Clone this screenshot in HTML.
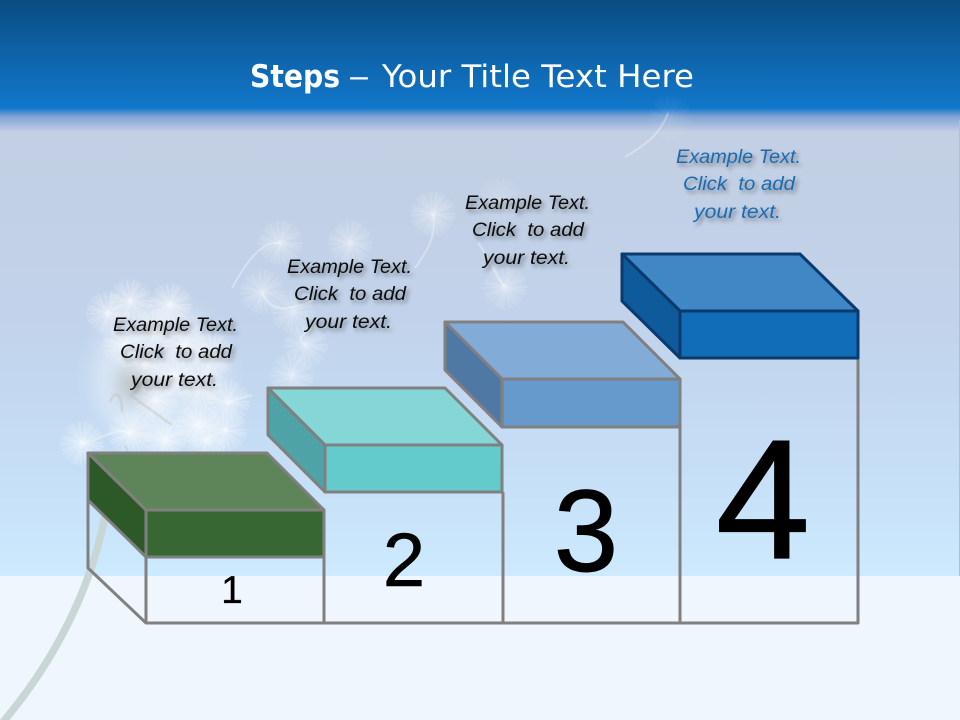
<!DOCTYPE html>
<html><head><meta charset="utf-8"><title>Steps</title>
<style>
html,body{margin:0;padding:0;background:#f0f6fd}
svg{display:block}
.t{font-family:"Liberation Sans",sans-serif;font-style:italic;font-size:19.5px;text-anchor:start}
.n{font-family:"Liberation Sans",sans-serif;fill:#000;text-anchor:middle}
.h{font-family:"DejaVu Sans",sans-serif;fill:#fff;font-size:31.5px}
</style></head><body>
<svg xmlns="http://www.w3.org/2000/svg" width="960" height="720" viewBox="0 0 960 720">
<defs>
<linearGradient id="hd" x1="0" y1="0" x2="0" y2="1"><stop offset="0" stop-color="#0a4c82"/><stop offset=".5" stop-color="#0e63a8"/><stop offset="1" stop-color="#1177cb"/></linearGradient>
<linearGradient id="fd" x1="0" y1="0" x2="0" y2="1"><stop offset="0" stop-color="#1177cb"/><stop offset=".35" stop-color="#7fa3d4"/><stop offset="1" stop-color="#c3cfe3"/></linearGradient>
<linearGradient id="sky" x1="0" y1="0" x2="0" y2="1"><stop offset="0" stop-color="#c3cfe3"/><stop offset=".4" stop-color="#c1d2ea"/><stop offset=".75" stop-color="#c5def6"/><stop offset="1" stop-color="#cdeafe"/></linearGradient>
<radialGradient id="gl"><stop offset="0" stop-color="#fff" stop-opacity=".55"/><stop offset=".6" stop-color="#fff" stop-opacity=".22"/><stop offset="1" stop-color="#fff" stop-opacity="0"/></radialGradient>
<filter id="sh" x="-20%" y="-30%" width="140%" height="170%"><feDropShadow dx="2.5" dy="3" stdDeviation="2" flood-color="#000" flood-opacity=".4"/></filter>
<filter id="b1" x="-30%" y="-30%" width="160%" height="160%"><feGaussianBlur stdDeviation=".6"/></filter>
<filter id="b8" x="-50%" y="-50%" width="200%" height="200%"><feGaussianBlur stdDeviation="9"/></filter>
<g id="p" fill="none">
<circle r="24" fill="url(#gl)"/>
<g stroke="#fff" stroke-width=".5" filter="url(#b1)">
<path d="M0 0L22 0M0 0L20 7M0 0L17 14M0 0L11 19M0 0L5 21M0 0L-2 22M0 0L-9 19M0 0L-15 15M0 0L-20 8M0 0L-22 1M0 0L-20 -7M0 0L-16 -15M0 0L-10 -19M0 0L-3 -21M0 0L4 -22M0 0L11 -19M0 0L16 -14M0 0L20 -8M0 0L22 4M0 0L14 17M0 0L-6 21M0 0L-18 11M0 0L-21 -4M0 0L-13 -17M0 0L8 -20M0 0L19 -11"/>
</g>
<circle r="2.4" fill="#fff" filter="url(#b1)"/>
</g>
</defs>
<rect width="960" height="720" fill="#f0f6fd"/>
<rect y="130" width="960" height="446" fill="url(#sky)"/>
<rect y="108" width="960" height="24" fill="url(#fd)"/>
<rect width="960" height="108" fill="url(#hd)"/>
<rect x="959" y="120" width="1" height="456" fill="#a9c0de"/>

<!-- dandelion -->
<path d="M107 505C98 560 72 640 3 722" fill="none" stroke="#c8d6d6" stroke-width="7.5"/>
<ellipse cx="160" cy="375" rx="68" ry="72" fill="#fff" opacity=".35" filter="url(#b8)"/>
<g fill="none" stroke="#fff" stroke-width="1" opacity=".65" filter="url(#b1)">
<path d="M82 443C100 442 115 425 130 433"/>
<path d="M280 243C260 240 245 265 232 288"/>
<path d="M433 214C437 235 428 250 415 268"/>
<path d="M505 287C495 275 488 255 478 243"/>
<path d="M668 113C660 135 645 145 625 157"/>
<path d="M262 292C270 315 290 310 315 300"/>
<path d="M306 345C295 340 300 335 318 325"/>
<path d="M230 402L252 395"/>
</g>
<g opacity=".75">
<use href="#p" x="108" y="313"/><use href="#p" x="130" y="301"/><use href="#p" x="170" y="305"/>
<use href="#p" x="155" y="330"/><use href="#p" x="185" y="345"/><use href="#p" x="200" y="385"/>
<use href="#p" x="155" y="400"/><use href="#p" x="130" y="433"/><use href="#p" x="198" y="425"/>
<use href="#p" x="207" y="440"/><use href="#p" x="228" y="402"/><use href="#p" x="82" y="443"/>
<use href="#p" x="175" y="375"/><use href="#p" x="165" y="440"/><use href="#p" x="212" y="355"/>
<use href="#p" x="125" y="345"/><use href="#p" x="145" y="365"/><use href="#p" x="225" y="430"/>
</g>
<g opacity=".55">
<use href="#p" x="280" y="243"/><use href="#p" x="350" y="243"/><use href="#p" x="262" y="292"/>
<use href="#p" x="293" y="312"/><use href="#p" x="306" y="345"/><use href="#p" x="292" y="375"/>
<use href="#p" x="433" y="214"/><use href="#p" x="505" y="287"/>
</g>
<use href="#p" x="500" y="200" opacity=".25"/>
<use href="#p" x="670" y="118" opacity=".14"/>
<ellipse cx="132" cy="385" rx="14" ry="17" fill="#a5a59c" opacity=".55" filter="url(#b8)"/>
<path d="M110 402C114 390 122 392 122 412M130 395L172 425M125 445L128 452" fill="none" stroke="#b5b5a8" stroke-width="2" opacity=".4" filter="url(#b1)"/>

<!-- wire frame -->
<g fill="none" stroke="#808080" stroke-width="3" stroke-linejoin="round">
<path d="M88 500V568L146 623H858V358M146 557V623M324 557V623M503 492V623M680 427V623"/>
</g>

<!-- numerals -->
<text class="n" x="232" y="603" font-size="39" stroke="#000" stroke-width=".3">1</text>
<text class="n" x="404" y="586" font-size="76" stroke="#000" stroke-width=".6">2</text>
<text class="n" x="586" y="571" font-size="116" stroke="#000" stroke-width=".9">3</text>
<text class="n" x="763" y="558" font-size="170" stroke="#000" stroke-width="1.2">4</text>

<!-- boxes -->
<g stroke="#808080" stroke-width="3" stroke-linejoin="round">
<path d="M88 453H267L324 510H146Z" fill="#5d8559"/>
<path d="M88 453L146 510V557L88 500Z" fill="#2d5928"/>
<path d="M146 510H324V557H146Z" fill="#376733"/>
<path d="M268 388H445L502 445H325Z" fill="#85d6d6"/>
<path d="M268 388L325 445V492L268 435Z" fill="#4ea3a6"/>
<path d="M325 445H502V492H325Z" fill="#63cbcc"/>
<path d="M445 322H623L680 379H502Z" fill="#82acd7"/>
<path d="M445 322L502 379V427L445 370Z" fill="#5078a5"/>
<path d="M502 379H680V427H502Z" fill="#6699cc"/>
</g>
<g stroke="#0a3a6e" stroke-width="3" stroke-linejoin="round">
<path d="M622 254H800L858 311H680Z" fill="#4087c5"/>
<path d="M622 254L680 311V358L622 301Z" fill="#0f5a9b"/>
<path d="M680 311H858V358H680Z" fill="#116db8"/>
</g>

<!-- labels -->
<g filter="url(#sh)" fill="#0a0a0a">
<text class="t" x="113" y="331" textLength="125" lengthAdjust="spacingAndGlyphs">Example Text.</text>
<text class="t" x="120" y="358" textLength="112" lengthAdjust="spacingAndGlyphs" xml:space="preserve">Click  to add</text>
<text class="t" x="131" y="386" textLength="87" lengthAdjust="spacingAndGlyphs">your text.</text>
<text class="t" x="287" y="273" textLength="125" lengthAdjust="spacingAndGlyphs">Example Text.</text>
<text class="t" x="294" y="300" textLength="112" lengthAdjust="spacingAndGlyphs" xml:space="preserve">Click  to add</text>
<text class="t" x="305" y="328" textLength="87" lengthAdjust="spacingAndGlyphs">your text.</text>
<text class="t" x="465" y="209" textLength="125" lengthAdjust="spacingAndGlyphs">Example Text.</text>
<text class="t" x="472" y="236" textLength="112" lengthAdjust="spacingAndGlyphs" xml:space="preserve">Click  to add</text>
<text class="t" x="483" y="264" textLength="87" lengthAdjust="spacingAndGlyphs">your text.</text>
</g>
<g filter="url(#sh)" fill="#1a6bb0">
<text class="t" x="676" y="163" textLength="125" lengthAdjust="spacingAndGlyphs">Example Text.</text>
<text class="t" x="683" y="190" textLength="112" lengthAdjust="spacingAndGlyphs" xml:space="preserve">Click  to add</text>
<text class="t" x="694" y="218" textLength="87" lengthAdjust="spacingAndGlyphs">your text.</text>
</g>

<!-- title -->
<text class="h" x="250" y="87" font-weight="bold" textLength="90" lengthAdjust="spacingAndGlyphs">Steps</text>
<text class="h" x="348" y="87" textLength="22" lengthAdjust="spacingAndGlyphs">–</text>
<text class="h" x="382" y="87" textLength="312" lengthAdjust="spacingAndGlyphs">Your Title Text Here</text>
</svg>
</body></html>
